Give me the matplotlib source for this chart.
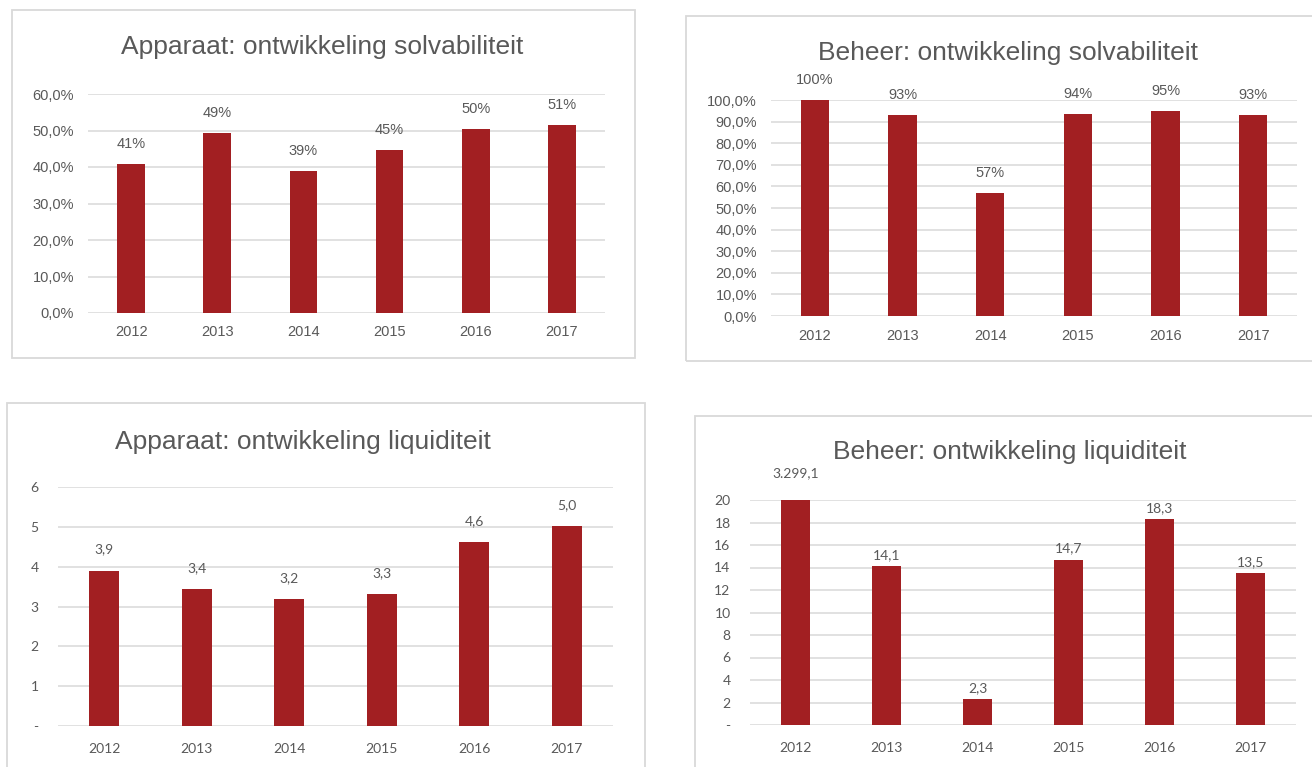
import matplotlib
matplotlib.use("Agg")
import matplotlib.pyplot as plt
from matplotlib.patches import Rectangle

# ---------------- data ----------------
years = ["2012", "2013", "2014", "2015", "2016", "2017"]

app_solv = [40.8, 49.3, 38.8, 44.6, 50.3, 51.4]          # %
beh_solv = [100.0, 93.2, 56.8, 93.5, 94.9, 93.0]         # %
app_liq = [3.9, 3.44, 3.19, 3.32, 4.61, 5.02]
beh_liq = [3299.1, 14.1, 2.3, 14.7, 18.3, 13.5]

titles = ["Apparaat: ontwikkeling solvabiliteit",
          "Beheer: ontwikkeling solvabiliteit",
          "Apparaat: ontwikkeling liquiditeit",
          "Beheer: ontwikkeling liquiditeit"]

app_solv_ticks = [0, 10, 20, 30, 40, 50, 60]
beh_solv_ticks = [0, 10, 20, 30, 40, 50, 60, 70, 80, 90, 100]
app_liq_ticks = [0, 1, 2, 3, 4, 5, 6]
beh_liq_ticks = [0, 2, 4, 6, 8, 10, 12, 14, 16, 18, 20]

# ---------------- style ----------------
W, H = 1312, 767
BAR = "#A21F22"
GRID = "#D9D9D9"
TXT = "#595959"

fig = plt.figure(figsize=(W / 100, H / 100), dpi=100)
fig.patch.set_facecolor("white")


def rect(l, t, r, b):
    return [l / W, 1 - b / H, (r - l) / W, (b - t) / H]


def nl(v, dec=1):
    s = f"{v:,.{dec}f}"
    return s.replace(",", "X").replace(".", ",").replace("X", ".")


def box(l, t, r, b):
    fig.patches.append(Rectangle((l / W, 1 - b / H), (r - l) / W, (b - t) / H,
                                 transform=fig.transFigure, fill=False,
                                 edgecolor=GRID, linewidth=1.3))


def panel(axrect, boxrect, title, tpos, vals, ticks, ticklabels, labels,
          family, fs, off, ypad, xpad, clip_off=None):
    box(*boxrect)
    ax = fig.add_axes(rect(*axrect))
    x = list(range(len(years)))
    ax.bar(x, vals, width=0.32, color=BAR, zorder=3)
    ax.set_xlim(-0.5, len(years) - 0.5)
    ax.set_ylim(ticks[0], ticks[-1])
    ax.set_yticks(ticks)
    ax.set_yticklabels(ticklabels, family=family, fontsize=fs, color=TXT)
    ax.set_xticks(x)
    ax.set_xticklabels(years, family=family, fontsize=fs, color=TXT)
    ax.tick_params(axis="y", length=0, pad=ypad)
    ax.tick_params(axis="x", length=0, pad=xpad)
    for s in ax.spines.values():
        s.set_visible(False)
    ax.yaxis.grid(True, color=GRID, linewidth=1.1, zorder=0)
    ax.set_axisbelow(True)
    ax.patch.set_alpha(0)
    top = ticks[-1]
    for i, (v, lab) in enumerate(zip(vals, labels)):
        yv = min(v, top)
        o = off
        if v > top and clip_off is not None:
            o = clip_off
        ax.annotate(lab, (i, yv), xytext=(0, o), textcoords="offset pixels",
                    ha="center", va="center", family=family, fontsize=fs,
                    color=TXT, annotation_clip=False)
    fig.text(tpos[0] / W, 1 - tpos[1] / H, title, ha="center", va="center",
             family="Liberation Sans", fontsize=19, color=TXT)
    return ax


ARIAL = "Liberation Sans"
CAL = "Lato"

panel((88, 94, 605, 313), (12, 10, 635, 358), titles[0], (322, 47),
      app_solv, app_solv_ticks, [nl(t) + "%" for t in app_solv_ticks],
      [f"{round(v)}%" for v in app_solv], ARIAL, 10.5, 20, 10, 9)

panel((771, 100, 1297, 316), (686, 16, 1330, 361), titles[1], (1008, 53),
      beh_solv, beh_solv_ticks, [nl(t) + "%" for t in beh_solv_ticks],
      [f"{round(v)}%" for v in beh_solv], ARIAL, 10.5, 20, 10, 9)

panel((58, 487, 613, 726), (7, 403, 645, 790), titles[2], (303, 442),
      app_liq, app_liq_ticks, ["-" if t == 0 else str(t) for t in app_liq_ticks],
      [nl(v) for v in app_liq], CAL, 10, 21, 14, 12)

panel((750, 500, 1296, 725), (695, 416, 1330, 790), titles[3], (1010, 452),
      beh_liq, beh_liq_ticks, ["-" if t == 0 else str(t) for t in beh_liq_ticks],
      [nl(v) for v in beh_liq], CAL, 10, 11, 14, 12, clip_off=27)

fig.savefig("out.png", dpi=100)
